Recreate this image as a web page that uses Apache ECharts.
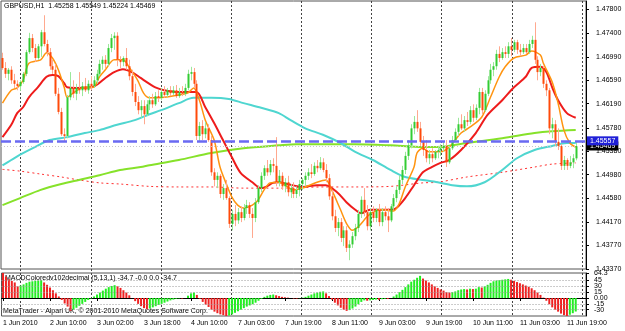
<!DOCTYPE html>
<html>
<head>
<meta charset="utf-8">
<script src="https://cdn.jsdelivr.net/npm/echarts@6/dist/echarts.min.js"></script>
<style>
  html, body { margin: 0; padding: 0; background: #fff; }
  #chart { width: 625px; height: 331px; }
</style>
</head>
<body>
<div id="chart"></div>
<script>
// GBPUSD H1 bars, 1 Jun 18:00 .. 11 Jun 22:00
const opens = [
  1.4697,1.4680,1.4670,1.4677,1.4659,1.4653,1.4649,1.4656,1.4670,1.4707,
  1.4731,1.4714,1.4697,1.4717,1.4741,1.4721,1.4707,1.4683,1.4677,1.4636,
  1.4605,1.4567,1.4564,1.4630,1.4646,1.4636,1.4646,1.4642,1.4649,1.4642,
  1.4653,1.4649,1.4659,1.4670,1.4687,1.4694,1.4687,1.4714,1.4731,1.4735,
  1.4694,1.4690,1.4697,1.4683,1.4666,1.4639,1.4622,1.4608,1.4615,1.4601,
  1.4618,1.4625,1.4618,1.4632,1.4629,1.4639,1.4634,1.4642,1.4637,1.4642,
  1.4632,1.4639,1.4636,1.4646,1.4670,1.4673,1.4653,1.4564,1.4581,1.4567,
  1.4577,1.4557,1.4502,1.4489,1.4496,1.4465,1.4475,1.4458,1.4414,1.4431,
  1.4420,1.4434,1.4424,1.4441,1.4446,1.4431,1.4424,1.4451,1.4475,1.4496,
  1.4509,1.4502,1.4516,1.4513,1.4485,1.4496,1.4478,1.4485,1.4468,1.4475,
  1.4465,1.4472,1.4482,1.4489,1.4496,1.4502,1.4499,1.4513,1.4509,1.4519,
  1.4506,1.4492,1.4461,1.4427,1.4407,1.4417,1.4390,1.4403,1.4373,1.4379,
  1.4393,1.4407,1.4431,1.4455,1.4434,1.4410,1.4434,1.4424,1.4438,1.4417,
  1.4434,1.4427,1.4420,1.4444,1.4458,1.4472,1.4489,1.4506,1.4530,1.4548,
  1.4577,1.4588,1.4577,1.4554,1.4540,1.4526,1.4533,1.4526,1.4537,1.4540,
  1.4543,1.4547,1.4519,1.4543,1.4557,1.4571,1.4584,1.4577,1.4591,1.4588,
  1.4608,1.4595,1.4612,1.4639,1.4608,1.4636,1.4659,1.4677,1.4683,1.4704,
  1.4697,1.4707,1.4704,1.4717,1.4711,1.4724,1.4711,1.4707,1.4714,1.4707,
  1.4721,1.4728,1.4694,1.4673,1.4680,1.4653,1.4642,1.4577,1.4584,1.4554,
  1.4547,1.4513,1.4523,1.4513,1.4519,1.45258
];
const highs = [
  1.4706,1.4690,1.4680,1.4683,1.4670,1.4659,1.4659,1.4673,1.4711,1.4740,
  1.4738,1.4721,1.4721,1.4745,1.4770,1.4728,1.4714,1.4694,1.4687,1.4646,
  1.4612,1.4577,1.4634,1.4673,1.4659,1.4653,1.4673,1.4656,1.4663,1.4659,
  1.4666,1.4666,1.4677,1.4694,1.4700,1.4702,1.4721,1.4738,1.4741,1.4741,
  1.4700,1.4700,1.4714,1.4694,1.4677,1.4653,1.4632,1.4625,1.4625,1.4625,
  1.4632,1.4636,1.4639,1.4642,1.4646,1.4649,1.4646,1.4649,1.4649,1.4651,
  1.4646,1.4649,1.4653,1.4677,1.4682,1.4680,1.4659,1.4588,1.4591,1.4588,
  1.4584,1.4564,1.4509,1.4502,1.4499,1.4482,1.4489,1.4461,1.4438,1.4446,
  1.4441,1.4444,1.4448,1.4455,1.4451,1.4441,1.4458,1.4480,1.4502,1.4514,
  1.4523,1.4523,1.4526,1.4562,1.4506,1.4502,1.4492,1.4496,1.4482,1.4485,
  1.4478,1.4489,1.4492,1.4502,1.4509,1.4516,1.4519,1.4523,1.4528,1.4526,
  1.4516,1.4499,1.4472,1.4438,1.4424,1.4424,1.4410,1.4410,1.4386,1.4400,
  1.4414,1.4438,1.4461,1.4475,1.4446,1.4441,1.4444,1.4441,1.4448,1.4441,
  1.4444,1.4441,1.4448,1.4465,1.4478,1.4496,1.4513,1.4537,1.4557,1.4584,
  1.4598,1.4608,1.4588,1.4564,1.4557,1.4540,1.4543,1.4540,1.4547,1.4550,
  1.4554,1.4557,1.4547,1.4564,1.4577,1.4595,1.4601,1.4598,1.4605,1.4615,
  1.4618,1.4618,1.4646,1.4646,1.4642,1.4666,1.4687,1.4690,1.4711,1.4717,
  1.4714,1.4717,1.4724,1.4731,1.4728,1.4728,1.4721,1.4721,1.4721,1.4728,
  1.4735,1.4758,1.4700,1.4687,1.4683,1.4659,1.4646,1.4595,1.4591,1.4577,
  1.4550,1.4530,1.4526,1.4530,1.4533,1.45549
];
const lows = [
  1.4677,1.4663,1.4659,1.4653,1.4646,1.4642,1.4641,1.4653,1.4666,1.4704,
  1.4707,1.4690,1.4694,1.4699,1.4717,1.4700,1.4677,1.4670,1.4632,1.4601,
  1.4564,1.4554,1.4560,1.4625,1.4629,1.4625,1.4636,1.4632,1.4639,1.4636,
  1.4642,1.4646,1.4653,1.4666,1.4677,1.4680,1.4683,1.4707,1.4711,1.4683,
  1.4680,1.4683,1.4677,1.4659,1.4632,1.4615,1.4601,1.4595,1.4584,1.4598,
  1.4608,1.4612,1.4615,1.4622,1.4625,1.4629,1.4630,1.4632,1.4634,1.4629,
  1.4629,1.4632,1.4632,1.4642,1.4659,1.4646,1.4557,1.4554,1.4557,1.4560,
  1.4554,1.4496,1.4478,1.4475,1.4458,1.4455,1.4455,1.4407,1.4403,1.4410,
  1.4414,1.4417,1.4420,1.4431,1.4424,1.4390,1.4417,1.4448,1.4468,1.4489,
  1.4496,1.4497,1.4502,1.4478,1.4478,1.4472,1.4468,1.4461,1.4458,1.4458,
  1.4458,1.4461,1.4472,1.4478,1.4489,1.4492,1.4496,1.4502,1.4506,1.4502,
  1.4485,1.4455,1.4420,1.4400,1.4393,1.4383,1.4376,1.4366,1.4352,1.4373,
  1.4386,1.4400,1.4424,1.4427,1.4403,1.4403,1.4417,1.4417,1.4410,1.4410,
  1.4420,1.4400,1.4417,1.4438,1.4451,1.4465,1.4482,1.4499,1.4523,1.4543,
  1.4567,1.4571,1.4547,1.4530,1.4519,1.4516,1.4519,1.4523,1.4526,1.4530,
  1.4537,1.4511,1.4516,1.4540,1.4554,1.4564,1.4574,1.4571,1.4581,1.4584,
  1.4588,1.4591,1.4601,1.4601,1.4605,1.4632,1.4653,1.4666,1.4677,1.4690,
  1.4694,1.4697,1.4697,1.4700,1.4707,1.4704,1.4700,1.4704,1.4704,1.4704,
  1.4714,1.4687,1.4659,1.4666,1.4646,1.4632,1.4567,1.4560,1.4547,1.4540,
  1.4506,1.4506,1.4506,1.4509,1.4509,1.45224
];
const closes = [
  1.4680,1.4670,1.4677,1.4659,1.4653,1.4649,1.4656,1.4670,1.4707,1.4731,
  1.4714,1.4697,1.4717,1.4741,1.4721,1.4707,1.4683,1.4677,1.4636,1.4605,
  1.4567,1.4564,1.4630,1.4646,1.4636,1.4646,1.4642,1.4649,1.4642,1.4653,
  1.4649,1.4659,1.4670,1.4687,1.4694,1.4687,1.4714,1.4731,1.4735,1.4694,
  1.4690,1.4697,1.4683,1.4666,1.4639,1.4622,1.4608,1.4615,1.4601,1.4618,
  1.4625,1.4618,1.4632,1.4629,1.4639,1.4634,1.4642,1.4637,1.4642,1.4632,
  1.4639,1.4636,1.4646,1.4670,1.4673,1.4653,1.4564,1.4581,1.4567,1.4577,
  1.4557,1.4502,1.4489,1.4496,1.4465,1.4475,1.4458,1.4414,1.4431,1.4420,
  1.4434,1.4424,1.4441,1.4446,1.4431,1.4424,1.4451,1.4475,1.4496,1.4509,
  1.4502,1.4516,1.4513,1.4485,1.4496,1.4478,1.4485,1.4468,1.4475,1.4465,
  1.4472,1.4482,1.4489,1.4496,1.4502,1.4499,1.4513,1.4509,1.4519,1.4506,
  1.4492,1.4461,1.4427,1.4407,1.4417,1.4390,1.4403,1.4373,1.4379,1.4393,
  1.4407,1.4431,1.4455,1.4434,1.4410,1.4434,1.4424,1.4438,1.4417,1.4434,
  1.4427,1.4420,1.4444,1.4458,1.4472,1.4489,1.4506,1.4530,1.4548,1.4577,
  1.4588,1.4577,1.4554,1.4540,1.4526,1.4533,1.4526,1.4537,1.4540,1.4543,
  1.4547,1.4519,1.4543,1.4557,1.4571,1.4584,1.4577,1.4591,1.4588,1.4608,
  1.4595,1.4612,1.4639,1.4608,1.4636,1.4659,1.4677,1.4683,1.4704,1.4697,
  1.4707,1.4704,1.4717,1.4711,1.4724,1.4711,1.4707,1.4714,1.4707,1.4721,
  1.4728,1.4694,1.4673,1.4680,1.4653,1.4642,1.4577,1.4584,1.4554,1.4547,
  1.4513,1.4523,1.4513,1.4519,1.4526,1.45469
];

// moving averages, [bar index, price]
const maFast = [
  [0,1.4620],[3,1.4642],[5,1.4646],[7,1.4659],[9,1.4688],[13,1.4694],[15,1.4706],[17,1.4697],
  [19,1.4677],[21,1.4647],[22,1.4630],[24,1.4637],[27,1.4646],[31,1.4647],[33,1.4665],[35,1.4677],
  [38,1.4694],[41,1.4694],[43,1.4682],[46,1.4659],[48,1.4637],[50,1.4629],[52,1.4629],[55,1.4630],
  [60,1.4634],[63,1.4637],[65,1.4646],[67,1.4625],[69,1.4591],[72,1.4557],[74,1.4511],[76,1.4484],
  [78,1.4460],[80,1.4446],[82,1.4441],[85,1.4446],[87,1.4455],[89,1.4472],[91,1.4484],[94,1.4485],
  [97,1.4477],[99,1.4472],[102,1.4475],[107,1.4485],[110,1.4489],[112,1.4472],[115,1.4438],[117,1.4415],
  [119,1.4403],[121,1.4409],[124,1.4426],[126,1.4434],[129,1.4438],[133,1.4436],[135,1.4449],[137,1.4477],
  [140,1.4511],[141,1.4535],[143,1.4543],[145,1.4537],[149,1.4537],[152,1.4545],[154,1.4557],[156,1.4569],
  [159,1.4579],[163,1.4596],[166,1.4630],[169,1.4665],[171,1.4682],[174,1.4697],[178,1.4702],[180,1.4709],
  [183,1.4702],[184,1.4688],[187,1.4656],[189,1.4620],[191,1.4574],[193,1.4552],[195,1.4545]
];
const maMid = [
  [0,1.4562],[3,1.4583],[5,1.4603],[7,1.4613],[9,1.4630],[12,1.4647],[15,1.4665],[17,1.4668],
  [19,1.4666],[21,1.4654],[22,1.4647],[25,1.4646],[30,1.4647],[32,1.4651],[35,1.4663],[38,1.4673],
  [41,1.4678],[44,1.4673],[47,1.4663],[50,1.4653],[52,1.4647],[55,1.4642],[60,1.4639],[63,1.4639],
  [66,1.4639],[69,1.4613],[72,1.4586],[75,1.4557],[78,1.4528],[81,1.4501],[85,1.4485],[88,1.4475],
  [90,1.4478],[92,1.4484],[94,1.4485],[97,1.4482],[102,1.4477],[107,1.4480],[110,1.4480],[114,1.4467],
  [117,1.4451],[120,1.4438],[122,1.4432],[125,1.4438],[128,1.4438],[132,1.4438],[134,1.4441],[137,1.4458],
  [140,1.4480],[143,1.4502],[146,1.4511],[149,1.4518],[152,1.4523],[156,1.4540],[161,1.4569],[165,1.4600],
  [170,1.4625],[174,1.4647],[178,1.4665],[180,1.4680],[183,1.4682],[185,1.4673],[187,1.4647],[189,1.4625],
  [192,1.4603],[195,1.4595]
];
const maSlow = [
  [0,1.4514],[3,1.4523],[6,1.4532],[11,1.4545],[16,1.4557],[22,1.4562],[28,1.4569],[33,1.4574],
  [39,1.4583],[45,1.4591],[50,1.4601],[54,1.4608],[60,1.4620],[65,1.4629],[71,1.4629],[77,1.4627],
  [82,1.4620],[88,1.4612],[94,1.4603],[98,1.4591],[103,1.4577],[109,1.4566],[115,1.4552],[120,1.4537],
  [126,1.4523],[132,1.4506],[137,1.4494],[143,1.4489],[148,1.4485],[153,1.4480],[158,1.4478],[164,1.4485],
  [170,1.4506],[175,1.4526],[181,1.4540],[187,1.4547],[192,1.4552],[195,1.4552]
];
const maLong = [
  [0,1.4446],[6,1.4458],[13,1.4472],[20,1.4482],[26,1.4489],[33,1.4497],[40,1.4506],[47,1.4511],
  [50,1.4514],[60,1.4523],[71,1.4535],[82,1.4543],[94,1.4548],[100,1.4550],[109,1.4550],[120,1.4550],
  [132,1.4548],[143,1.4545],[148,1.4545],[158,1.4552],[170,1.4560],[181,1.4569],[187,1.4572],[195,1.4574]
];
const maVeryLong = [
  [0,1.4507],[6,1.4504],[13,1.4499],[20,1.4494],[26,1.4489],[33,1.4484],[40,1.4482],[50,1.4478],
  [60,1.4477],[71,1.4477],[82,1.4475],[94,1.4475],[109,1.4477],[120,1.4477],[132,1.4478],[143,1.4484],
  [148,1.4485],[158,1.4494],[170,1.4502],[181,1.4511],[187,1.4516],[195,1.4518]
];

// MACD histogram
const macd = [
  64.3,55,48,44,40,30,32,35,39,42,
  43,44,45,46,40,34,27,20,12,4,
  -5,-14,-22,-33,-30,-25,-20,-15,-10,-5,
  -1,4,9,14,19,24,28,31,33,30,
  26,20,14,7,0,-8,-15,-21,-26,-29,
  -27,-24,-21,-18,-15,-12,-9,-6,-4,-2,
  -1,-1.5,0,6,12,14,8,-2,-10,-17,
  -23,-30,-35,-39,-42,-44,-46.2,-45,-42,-38,
  -34,-30,-26,-22,-19,-16,-12,-7,-2,3,
  6,8,9,7,5,3,2,1,0,-1,
  -1.5,-0.5,1,3,6,9,12,14,16,17,
  12,5,-4,-12,-19,-25,-30,-33,-31,-27,
  -22,-16,-10,-6,-7,-6,-5,-4,-4.5,-3,
  -2,-2.5,0,4,9,15,21,28,35,42,
  47,52,57,50,45,40,35,30,26,22,
  19,15,14,15,17,20,22,23,22,24,
  23,24,28,27,30,34,39,43,45,46,
  47,48,49,47,44,41,38,35,32,29,
  25,20,14,8,1,-7,-16,-24,-30,-35,
  -40,-44,-46.2,-43,-39,-34.7
];
const macdLevels = [45, 30, 15, -15, -30];
const macdTicks = [64.3, 45, 30, 15, 0, -15, -30, -46.2];

const priceTicks = [1.4337,1.4377,1.4417,1.4458,1.4498,1.4538,1.4578,1.4619,1.4659,1.4699,1.4740,1.4780];
const timeLabels = ['1 Jun 2010','2 Jun 10:00','3 Jun 02:00','3 Jun 18:00','4 Jun 10:00','7 Jun 03:00',
  '7 Jun 19:00','8 Jun 11:00','9 Jun 03:00','9 Jun 19:00','10 Jun 11:00','11 Jun 03:00','11 Jun 19:00'];
const lineLevel = 1.45557;
const bidPrice = 1.45469;

const FONT = '"Liberation Sans", Arial, sans-serif';
const SLOTS = 199;           // bars plus the empty shift on the right
const LABEL_STEP = 16;

const cats = Array.from({ length: SLOTS }, (_, i) => String(i));
const candles = closes.map((c, i) => [i, opens[i], c, lows[i], highs[i]]);
const isLabel = i => i % LABEL_STEP === 0 && i / LABEL_STEP < timeLabels.length;

function renderCandle(params, api) {
  const i = api.value(0);
  const o = api.value(1), c = api.value(2);
  const po = api.coord([i, o]);
  const pc = api.coord([i, c]);
  const pl = api.coord([i, api.value(3)]);
  const ph = api.coord([i, api.value(4)]);
  const up = c >= o;
  const x = Math.round(po[0]);
  const top = Math.min(po[1], pc[1]);
  const h = Math.max(1, Math.abs(po[1] - pc[1]));
  return {
    type: 'group',
    children: [
      { type: 'line', shape: { x1: x + 0.5, y1: ph[1], x2: x + 0.5, y2: pl[1] },
        style: { stroke: up ? '#9be89b' : '#ffa98f', lineWidth: 1 } },
      { type: 'rect', shape: { x: x - 0.5, y: top, width: 2, height: h },
        style: { fill: up ? '#33cc33' : '#ff4a0a' } }
    ]
  };
}

const chart = echarts.init(document.getElementById('chart'));

const lineSeries = (data, color, width, type) => ({
  type: 'line', xAxisIndex: 0, yAxisIndex: 0, data,
  showSymbol: false, smooth: 0.3, silent: true,
  lineStyle: { color, width, type: type || 'solid' }, z: 3
});

chart.setOption({
  animation: false,
  backgroundColor: '#fff',
  grid: [
    { left: 1, top: 1, width: 585, height: 268, show: true, borderColor: '#555', borderWidth: 1 },
    { left: 1, top: 273, width: 585, height: 43, show: true, borderColor: '#555', borderWidth: 1 },
    { left: 20.7, top: 1, width: 561.3, height: 315 }
  ],
  xAxis: [
    { type: 'category', gridIndex: 0, data: cats, boundaryGap: true,
      axisLine: { show: false }, axisTick: { show: false }, axisLabel: { show: false } },
    { type: 'category', gridIndex: 1, data: cats, boundaryGap: true,
      axisLine: { show: true, lineStyle: { color: '#000' } },
      axisTick: { show: true, interval: i => isLabel(i), alignWithLabel: true, length: 3, lineStyle: { color: '#000' } },
      axisLabel: { interval: i => isLabel(i), formatter: (v, i) => timeLabels[i / LABEL_STEP],
        align: 'left', fontSize: 7, fontFamily: FONT, color: '#000', margin: 4 } },
    { type: 'value', gridIndex: 2, min: 0, max: 8, interval: 1,
      axisLine: { show: false }, axisTick: { show: false }, axisLabel: { show: false },
      splitLine: { show: true, lineStyle: { color: '#444', type: [2, 2], width: 1 } } }
  ],
  yAxis: [
    { type: 'value', gridIndex: 0, position: 'right', min: 1.4337, max: 1.47943,
      splitLine: { show: false },
      axisLine: { show: true, lineStyle: { color: '#000' } },
      axisTick: { show: true, length: 3, customValues: priceTicks, lineStyle: { color: '#000' } },
      axisLabel: { customValues: priceTicks, formatter: v => v.toFixed(5),
        fontSize: 7, fontFamily: FONT, color: '#000', margin: 10 } },
    { type: 'value', gridIndex: 1, position: 'right', min: -46.2, max: 64.3,
      splitLine: { show: false },
      axisLine: { show: true, lineStyle: { color: '#000' } },
      axisTick: { show: true, length: 3, customValues: macdTicks, lineStyle: { color: '#000' } },
      axisLabel: { customValues: macdTicks, formatter: v => (v === 0 ? '0.00' : String(v)),
        fontSize: 7, fontFamily: FONT, color: '#000', margin: 8 } },
    { type: 'value', gridIndex: 2, show: false, min: 0, max: 1 }
  ],
  series: [
    { type: 'line', xAxisIndex: 2, yAxisIndex: 2, data: [] },
    lineSeries(maVeryLong, '#ff3030', 1, [2, 3]),
    lineSeries(maLong, '#86e22a', 2),
    lineSeries(maSlow, '#4fd6d0', 2),
    { type: 'custom', xAxisIndex: 0, yAxisIndex: 0, data: candles, renderItem: renderCandle,
      encode: { x: 0, y: [1, 2, 3, 4] }, z: 4, silent: true,
      markLine: {
        symbol: 'none', silent: true, animation: false, precision: 5,
        data: [
          { yAxis: bidPrice, lineStyle: { color: '#c8c8c8', type: [1, 2], width: 1 },
            label: { show: true, position: 'end', formatter: bidPrice.toFixed(5), color: '#fff',
              backgroundColor: '#000', padding: [1, 3], fontSize: 7, fontFamily: FONT, distance: 1 } },
          { yAxis: lineLevel, lineStyle: { color: '#6a6af2', type: [10, 4], width: 2.5 },
            label: { show: true, position: 'end', formatter: lineLevel.toFixed(5), color: '#fff',
              backgroundColor: '#2020d8', padding: [1, 3], fontSize: 7, fontFamily: FONT, distance: 1 } }
        ]
      } },
    lineSeries(maMid, '#ee1c1c', 2),
    lineSeries(maFast, '#ff9410', 1.5),
    { type: 'bar', xAxisIndex: 1, yAxisIndex: 1, data: macd, barWidth: 2, silent: true,
      itemStyle: { color: p => (p.dataIndex > 0 && macd[p.dataIndex] > macd[p.dataIndex - 1]) ? '#22ee22' : '#ee2222' },
      markLine: {
        symbol: 'none', silent: true, label: { show: false }, precision: 2,
        lineStyle: { color: '#999', type: [1, 2], width: 1 },
        data: macdLevels.map(v => ({ yAxis: v }))
      } }
  ],
  graphic: [
    { type: 'text', left: 4, top: 3, style: { text: 'GBPUSD,H1  1.45258 1.45549 1.45224 1.45469',
      font: '7px ' + FONT, fill: '#000' } },
    { type: 'text', left: 5, top: 275, style: { text: 'MACDColoredv102decimal (5,13,1) -34.7 -0.0 0.0 -34.7',
      font: '7px ' + FONT, fill: '#000' } },
    { type: 'text', left: 3, top: 308, style: { text: 'MetaTrader - Alpari UK, © 2001-2010 MetaQuotes Software Corp.',
      font: '7px ' + FONT, fill: '#000' } }
  ]
});
</script>
</body>
</html>
